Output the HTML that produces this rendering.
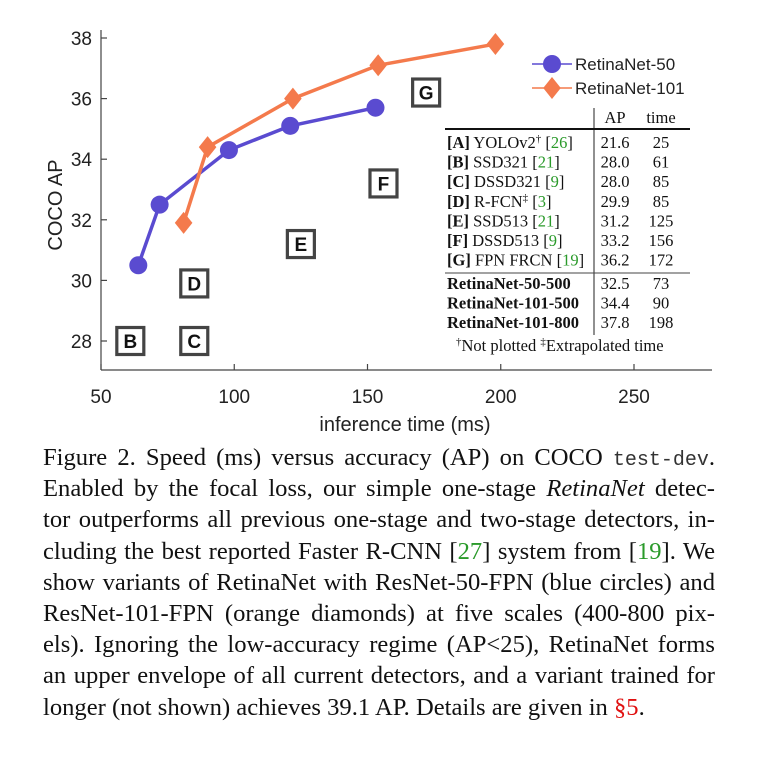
<!DOCTYPE html>
<html><head><meta charset="utf-8"><style>
body{margin:0;background:#fff;width:760px;height:766px;overflow:hidden;position:relative}
svg{position:absolute;left:0;top:0}
#cap{position:absolute;left:43px;top:442px;width:672px;font-family:"Liberation Serif",serif;font-size:24.6px;line-height:31.2px;color:#111}
#cap .l{display:block;text-align:justify;text-align-last:justify;white-space:nowrap;height:31.2px}
#cap .l.last{text-align-last:left}
.g{color:#2a9a2a}.r{color:#e01010}
.tt{font-family:"Liberation Mono",monospace;font-size:20px;color:#333}
</style></head><body>
<svg id="chart" width="760" height="440" font-family="Liberation Sans, sans-serif"></svg>
<div id="cap">
<span class="l">Figure 2. Speed (ms) versus accuracy (AP) on COCO <span class="tt">test-dev</span>.</span>
<span class="l">Enabled by the focal loss, our simple one-stage <i>RetinaNet</i> detec-</span>
<span class="l">tor outperforms all previous one-stage and two-stage detectors, in-</span>
<span class="l">cluding the best reported Faster R-CNN [<span class="g">27</span>] system from [<span class="g">19</span>]. We</span>
<span class="l">show variants of RetinaNet with ResNet-50-FPN (blue circles) and</span>
<span class="l">ResNet-101-FPN (orange diamonds) at five scales (400-800 pix-</span>
<span class="l">els). Ignoring the low-accuracy regime (AP&lt;25), RetinaNet forms</span>
<span class="l">an upper envelope of all current detectors, and a variant trained for</span>
<span class="l last">longer (not shown) achieves 39.1 AP. Details are given in <span class="r">§5</span>.</span>
</div>
<script>
const xTicks=[50,100,150,200,250];
const yTicks=[28,30,32,34,36,38];
const r50Time=[64,72,98,121,153];
const r50AP=[30.5,32.5,34.3,35.1,35.7];
const r101Time=[81,90,122,154,198];
const r101AP=[31.9,34.4,36.0,37.1,37.8];
const boxLabels=['B','C','D','E','F','G'];
const boxTime=[61,85,85,125,156,172];
const boxAP=[28.0,28.0,29.9,31.2,33.2,36.2];
const tblNames=['YOLOv2','SSD321','DSSD321','R-FCN','SSD513','DSSD513','FPN FRCN'];
const tblKeys=['A','B','C','D','E','F','G'];
const tblRefs=['26','21','9','3','21','9','19'];
const tblMarks=['†','','','‡','','',''];
const tblAP=['21.6','28.0','28.0','29.9','31.2','33.2','36.2'];
const tblTime=['25','61','85','85','125','156','172'];
const retNames=['RetinaNet-50-500','RetinaNet-101-500','RetinaNet-101-800'];
const retAP=['32.5','34.4','37.8'];
const retTime=['73','90','198'];

const svg=document.getElementById('chart');
const NS='http://www.w3.org/2000/svg';
const X=v=>101+(v-50)*(533/200);
const Y=v=>38+(38-v)*(303/10);
function mk(t,a,p){const e=document.createElementNS(NS,t);for(const k in a)e.setAttribute(k,a[k]);(p||svg).appendChild(e);return e;}
function tx(x,y,s,a){const e=mk('text',Object.assign({x:x,y:y},a));e.textContent=s;return e;}

const ax=mk('g',{stroke:'#444','stroke-width':1.2});


mk('line',{x1:101,y1:370,x2:712,y2:370},ax);
mk('line',{x1:101,y1:30,x2:101,y2:370},ax);
xTicks.forEach(t=>{mk('line',{x1:X(t),y1:370,x2:X(t),y2:364},ax);
 const e=tx(X(t),403,t,{'font-size':19,'text-anchor':'middle',fill:'#222'});
 
 });
yTicks.forEach(t=>{mk('line',{x1:101,y1:Y(t),x2:107,y2:Y(t)},ax);
 const e=tx(92,Y(t)+7,t,{'font-size':19,'text-anchor':'end',fill:'#222'});
 
 });
let e=tx(405,431,'inference time (ms)',{'font-size':20,'text-anchor':'middle',fill:'#222'});


e=tx(0,0,'COCO AP',{'font-size':20,'text-anchor':'middle',fill:'#222',transform:'translate(62,205) rotate(-90)'});



boxLabels.forEach((l,i)=>{const g=mk('g',{});
 
 
 const cx=X(boxTime[i]),cy=Y(boxAP[i]);
 mk('rect',{x:cx-13.5,y:cy-13.5,width:27,height:27,fill:'#fff',stroke:'#444','stroke-width':3.2},g);
 const t=mk('text',{x:cx,y:cy+7,'font-size':19,'font-weight':'bold','text-anchor':'middle',fill:'#111'},g);t.textContent=l;});

const blue='#5a4bd0',orange='#f47a4c';
let p=mk('polyline',{points:r50Time.map((t,i)=>X(t)+','+Y(r50AP[i])).join(' '),fill:'none',stroke:blue,'stroke-width':3.5});


r50Time.forEach((t,i)=>{const c=mk('circle',{cx:X(t),cy:Y(r50AP[i]),r:9,fill:blue});
 
 });
p=mk('polyline',{points:r101Time.map((t,i)=>X(t)+','+Y(r101AP[i])).join(' '),fill:'none',stroke:orange,'stroke-width':3.5});


const dia=(x,y,s)=>`${x},${y-s} ${x+s*0.8},${y} ${x},${y+s} ${x-s*0.8},${y}`;
r101Time.forEach((t,i)=>{const d=mk('polygon',{points:dia(X(t),Y(r101AP[i]),11),fill:orange});
 
 });

const lg=mk('g',{});


mk('line',{x1:532,y1:64,x2:572,y2:64,stroke:blue,'stroke-width':1.5},lg);
mk('circle',{cx:552,cy:64,r:9,fill:blue},lg);
mk('line',{x1:532,y1:88,x2:572,y2:88,stroke:orange,'stroke-width':1.5},lg);
mk('polygon',{points:dia(552,88,11),fill:orange},lg);
let t=mk('text',{x:575,y:70,'font-size':17,fill:'#222'},lg);t.textContent='RetinaNet-50';
t=mk('text',{x:575,y:94,'font-size':17,fill:'#222'},lg);t.textContent='RetinaNet-101';

const tb=mk('g',{'font-family':'Liberation Serif, serif','font-size':16.5,fill:'#111'});


mk('rect',{x:443,y:108,width:250,height:250,fill:'#fff'},tb);
mk('line',{x1:594,y1:108,x2:594,y2:335,stroke:'#222','stroke-width':1},tb);
mk('line',{x1:445,y1:129,x2:690,y2:129,stroke:'#111','stroke-width':2},tb);
mk('line',{x1:445,y1:273,x2:690,y2:273,stroke:'#444','stroke-width':1},tb);
t=mk('text',{x:615,y:123,'text-anchor':'middle'},tb);t.textContent='AP';
t=mk('text',{x:661,y:123,'text-anchor':'middle'},tb);t.textContent='time';
tblNames.forEach((n,i)=>{const y=148+i*19.6;
 const r=mk('text',{x:447,y:y},tb);
 r.innerHTML=`<tspan font-weight="bold">[${tblKeys[i]}]</tspan> ${n}${tblMarks[i]?'<tspan font-size="11" dy="-6">'+tblMarks[i]+'</tspan><tspan dy="6"> </tspan>':' '}[<tspan fill="#2a9a2a">${tblRefs[i]}</tspan>]`;
 let a=mk('text',{x:615,y:y,'text-anchor':'middle'},tb);a.textContent=tblAP[i];
 a=mk('text',{x:661,y:y,'text-anchor':'middle'},tb);a.textContent=tblTime[i];});
retNames.forEach((n,i)=>{const y=289+i*19.6;
 let a=mk('text',{x:447,y:y,'font-weight':'bold'},tb);a.textContent=n;
 a=mk('text',{x:615,y:y,'text-anchor':'middle'},tb);a.textContent=retAP[i];
 a=mk('text',{x:661,y:y,'text-anchor':'middle'},tb);a.textContent=retTime[i];});
t=mk('text',{x:456,y:351},tb);
t.innerHTML='<tspan font-size="11" dy="-6">†</tspan><tspan dy="6">Not plotted  </tspan><tspan font-size="11" dy="-6">‡</tspan><tspan dy="6">Extrapolated time</tspan>';
</script>
</body></html>
